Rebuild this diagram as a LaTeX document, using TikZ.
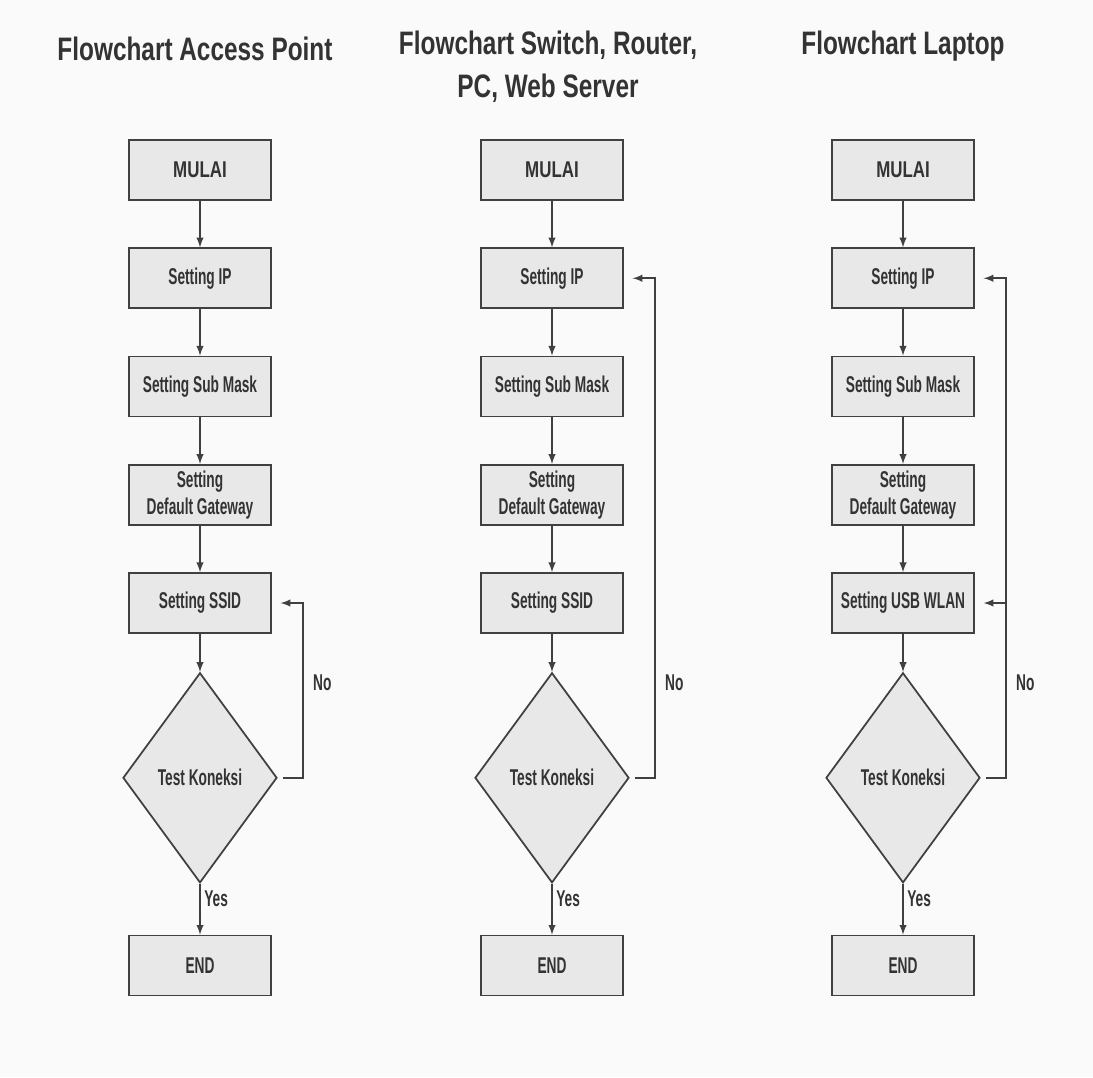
\documentclass[tikz,border=0pt]{standalone}
\usepackage{fontspec}
\setmainfont{Liberation Sans}[FakeStretch=0.6]
\newfontfamily\titlefont{Liberation Sans}[FakeStretch=0.75]
\newfontfamily\widefont{Liberation Sans}[FakeStretch=0.74]
\usepackage{tikz}
\usetikzlibrary{shapes.geometric, positioning, arrows}

\begin{document}
\begin{tikzpicture}[
  node distance=0.93cm and 1cm,
  x=1cm, y=1cm,
  every node/.style={text=black!80, font=\bfseries\fontsize{13}{15.5}\selectfont},
  mybox/.style={draw=black!75, fill=black!9, line width=1pt, minimum width=2.84cm, minimum height=1.2cm, inner sep=2pt, align=center},
  mytest/.style={diamond, draw=black!75, fill=black!9, line width=1pt, minimum width=3.08cm, minimum height=4.2cm, inner sep=0pt},
  mytitle/.style={font=\titlefont\bfseries\fontsize{18.5}{24.5}\selectfont, align=center},
  lbl/.style={inner sep=2pt},
  every path/.style={draw=black!75, line width=0.9pt},
]
\useasboundingbox[fill=black!2, draw=none] (0,0) rectangle (21.86,-21.54);

\node[mytitle] (t1) at (3.9,-0.98) {Flowchart Access Point};
\node[mytitle] (t2) at (10.96,-1.33) {Flowchart Switch, Router,\\PC, Web Server};
\node[mytitle] (t3) at (18.06,-0.92) {Flowchart Laptop};

\node[mybox] (m1) at (4.0,-3.4) {\widefont MULAI};
\node[mybox,below=of m1] (ip1) {Setting IP};
\node[mybox,below=of ip1] (sm1) {Setting Sub Mask};
\node[mybox,below=of sm1] (gw1) {Setting\\Default Gateway};
\node[mybox,below=of gw1] (ss1) {Setting SSID};
\node[mytest,below=0.76cm of ss1] (tk1) {Test Koneksi};
\node[mybox,below=1.02cm of tk1] (e1) {END};
\coordinate[right=0.5cm of tk1.east] (r1);
\draw[-latex] (m1) -- (ip1);
\draw[-latex] (ip1) -- (sm1);
\draw[-latex] (sm1) -- (gw1);
\draw[-latex] (gw1) -- (ss1);
\draw[-latex] (ss1) -- (tk1);
\draw[-latex] (tk1) -- node[lbl, right, pos=0.3] (y1) {Yes} (e1);
\draw[-latex, shorten <=3pt, shorten >=5pt] (tk1.east) -- (r1) |- (ss1.east);
\node[lbl, anchor=west] (no1) at ([shift={(0.12,1.9)}]r1) {No};

\node[mybox] (m2) at (11.04,-3.4) {\widefont MULAI};
\node[mybox,below=of m2] (ip2) {Setting IP};
\node[mybox,below=of ip2] (sm2) {Setting Sub Mask};
\node[mybox,below=of sm2] (gw2) {Setting\\Default Gateway};
\node[mybox,below=of gw2] (ss2) {Setting SSID};
\node[mytest,below=0.76cm of ss2] (tk2) {Test Koneksi};
\node[mybox,below=1.02cm of tk2] (e2) {END};
\coordinate[right=0.5cm of tk2.east] (r2);
\draw[-latex] (m2) -- (ip2);
\draw[-latex] (ip2) -- (sm2);
\draw[-latex] (sm2) -- (gw2);
\draw[-latex] (gw2) -- (ss2);
\draw[-latex] (ss2) -- (tk2);
\draw[-latex] (tk2) -- node[lbl, right, pos=0.3] (y2) {Yes} (e2);
\draw[-latex, shorten <=3pt, shorten >=5pt] (tk2.east) -- (r2) |- (ip2.east);
\node[lbl, anchor=west] (no2) at ([shift={(0.12,1.9)}]r2) {No};

\node[mybox] (m3) at (18.06,-3.4) {\widefont MULAI};
\node[mybox,below=of m3] (ip3) {Setting IP};
\node[mybox,below=of ip3] (sm3) {Setting Sub Mask};
\node[mybox,below=of sm3] (gw3) {Setting\\Default Gateway};
\node[mybox,below=of gw3] (wl3) {Setting USB WLAN};
\node[mytest,below=0.76cm of wl3] (tk3) {Test Koneksi};
\node[mybox,below=1.02cm of tk3] (e3) {END};
\coordinate[right=0.5cm of tk3.east] (r3);
\draw[-latex] (m3) -- (ip3);
\draw[-latex] (ip3) -- (sm3);
\draw[-latex] (sm3) -- (gw3);
\draw[-latex] (gw3) -- (wl3);
\draw[-latex] (wl3) -- (tk3);
\draw[-latex] (tk3) -- node[lbl, right, pos=0.3] (y3) {Yes} (e3);
\draw[-latex, shorten <=3pt, shorten >=5pt] (tk3.east) -- (r3) |- (ip3.east);
\draw[-latex, shorten >=5pt] (r3 |- wl3.east) -- (wl3.east);
\node[lbl, anchor=west] (no3) at ([shift={(0.12,1.9)}]r3) {No};
\end{tikzpicture}
\end{document}
